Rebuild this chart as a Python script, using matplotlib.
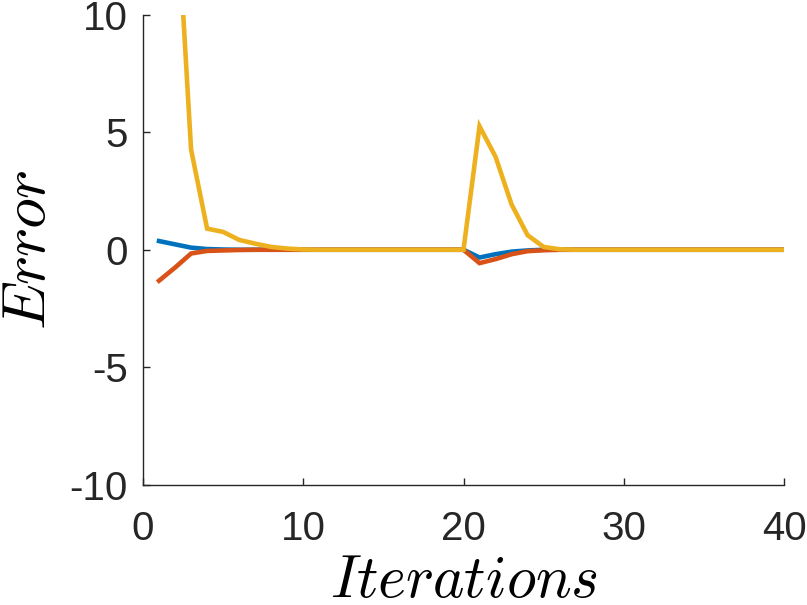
import matplotlib
matplotlib.use("Agg")
import matplotlib.pyplot as plt
import numpy as np

iterations = list(range(1, 41))
blue = [0.37, 0.23, 0.09, 0.03, 0.01, 0.0, 0.0, 0.0, 0.0, 0.0,
        0.0, 0.0, 0.0, 0.0, 0.0, 0.0, 0.0, 0.0, 0.0, 0.0,
        -0.33, -0.19, -0.08, -0.03, 0.0, 0.0, 0.0, 0.0, 0.0, 0.0,
        0.0, 0.0, 0.0, 0.0, 0.0, 0.0, 0.0, 0.0, 0.0, 0.0]
red = [-1.32, -0.76, -0.16, -0.05, -0.03, -0.01, 0.0, 0.0, 0.0, 0.0,
       0.0, 0.0, 0.0, 0.0, 0.0, 0.0, 0.0, 0.0, 0.0, 0.0,
       -0.57, -0.40, -0.19, -0.06, -0.02, 0.0, 0.0, 0.0, 0.0, 0.0,
       0.0, 0.0, 0.0, 0.0, 0.0, 0.0, 0.0, 0.0, 0.0, 0.0]
yellow = [30.0, 16.0, 4.27, 0.9, 0.76, 0.42, 0.26, 0.12, 0.05, 0.01,
          0.0, 0.0, 0.0, 0.0, 0.0, 0.0, 0.0, 0.0, 0.0, 0.0,
          5.26, 3.96, 1.93, 0.62, 0.12, 0.02, 0.0, 0.0, 0.0, 0.0,
          0.0, 0.0, 0.0, 0.0, 0.0, 0.0, 0.0, 0.0, 0.0, 0.0]
xticks = [0, 10, 20, 30, 40]
yticks = [-10, -5, 0, 5, 10]
yticklabels = ["-10", "-5", "0", "5", "10"]

plt.rcParams['mathtext.fontset'] = 'cm'
plt.rcParams['font.family'] = ['Liberation Sans', 'DejaVu Sans']

W, H = 807, 605
fig = plt.figure(figsize=(W / 100, H / 100), dpi=100)
ax = fig.add_axes([143 / W, 1 - 484.5 / H, (784 - 143) / W, (484.5 - 15) / H])

lw = 3.3
ax.plot(iterations, blue, color='#0072BD', lw=lw, solid_joinstyle='miter')
ax.plot(iterations, red, color='#D95319', lw=lw, solid_joinstyle='miter')
ax.plot(iterations, yellow, color='#EDB120', lw=lw, solid_joinstyle='miter')

ax.set_xlim(0, 40)
ax.set_ylim(-10, 10)
ax.set_xticks(xticks)
ax.set_xticklabels([str(t) for t in xticks])
ax.set_yticks(yticks)
ax.set_yticklabels(yticklabels)

axcol = '#262626'
for s in ['top', 'right']:
    ax.spines[s].set_visible(False)
for s in ['left', 'bottom']:
    ax.spines[s].set_color(axcol)
    ax.spines[s].set_linewidth(1.0)
ax.tick_params(direction='in', length=5, width=1.0, color=axcol,
               labelsize=29, labelcolor=axcol)
ax.tick_params(axis='y', pad=11)
ax.tick_params(axis='x', pad=18)

fig.text(463.5 / W, 8 / H, r'$Iterations$', fontsize=43, color='black',
         ha='center', va='baseline')
fig.text(1.5 / W, 1 - 250 / H, r'$Error$', fontsize=44.5, color='black',
         ha='left', va='center', rotation=90)

fig.savefig('out.png', dpi=100)
